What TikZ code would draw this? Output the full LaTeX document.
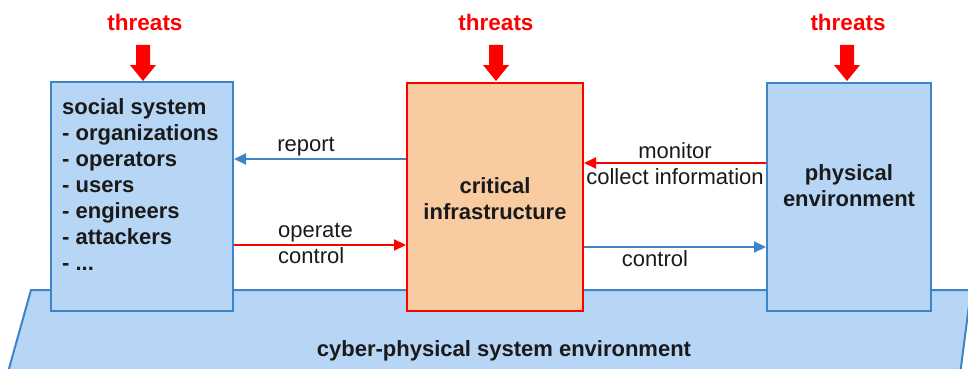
\documentclass[tikz,border=0pt]{standalone}
\usepackage{fontspec}
\setmainfont{Liberation Sans}
\usetikzlibrary{arrows.meta,calc}
\definecolor{envblue}{HTML}{B7D5F5}
\definecolor{lineblue}{HTML}{3D85C6}
\definecolor{threatred}{HTML}{FF0000}
\definecolor{infraorange}{HTML}{F8CBA0}
\definecolor{ink}{HTML}{1A1A1A}
\tikzset{
  sysbox/.style={draw=lineblue, fill=envblue, line width=2pt, inner sep=0pt},
  infrabox/.style={draw=threatred, fill=infraorange, line width=2pt, inner sep=0pt},
  boldtext/.style={font=\fontsize{22}{26}\selectfont\bfseries, text=ink, inner sep=0pt},
  plaintext/.style={font=\fontsize{22}{26}\selectfont, text=ink, inner sep=0pt},
  threatlabel/.style={font=\fontsize{22.5}{26}\selectfont\bfseries, text=threatred, inner sep=0pt},
  bluelink/.style={draw=lineblue, line width=2pt, -{Triangle[length=12pt,width=11pt]}},
  redlink/.style={draw=threatred, line width=2pt, -{Triangle[length=12pt,width=11pt]}},
  threatarrow/.pic={
    \fill[threatred] (-7,0) -- (7,0) -- (7,20) -- (13,20) -- (0,36) -- (-13,20) -- (-7,20) -- cycle;
  }
}
\begin{document}
\begin{tikzpicture}[x=1pt,y=-1pt]
  \useasboundingbox (0,0) rectangle (968,369);
  \clip (0,0) rectangle (968,369);

  % environment platform
  \filldraw[fill=envblue, draw=lineblue, line width=2pt]
    (31,290) -- (971,290) -- (958,390) -- (3,390) -- cycle;

  % main blocks
  \node[sysbox, minimum width=182pt, minimum height=229pt] (social) at (142,196.5) {};
  \node[infrabox, minimum width=176pt, minimum height=228pt] (infra) at (495,197) {};
  \node[sysbox, minimum width=164pt, minimum height=228pt] (phys) at (849,197) {};

  % block texts
  \node[boldtext, align=left, anchor=north west] (socialtext) at (62,98)
    {social system\\- organizations\\- operators\\- users\\- engineers\\- attackers\\- ...};
  \node[boldtext, align=center] (infratext) at (495,199) {critical\\infrastructure};
  \node[boldtext, align=center] (phystext) at (849,186) {physical\\environment};
  \node[boldtext] (envtext) at (504,351) {cyber-physical system environment};

  % threats
  \node[threatlabel] (t1) at (145,22) {threats};
  \node[threatlabel] (t2) at (496,22) {threats};
  \node[threatlabel] (t3) at (848,22) {threats};
  \pic at (143,45) {threatarrow};
  \pic at (496,45) {threatarrow};
  \pic at (847,45) {threatarrow};

  % connector levels
  \coordinate (yreport) at (0,159);
  \coordinate (yoperate) at (0,245);
  \coordinate (ymonitor) at (0,163);
  \coordinate (ycontrol) at (0,247);

  \draw[bluelink] (infra.west |- yreport) -- (social.east |- yreport);
  \draw[redlink] (social.east |- yoperate) -- (infra.west |- yoperate);
  \draw[redlink] (phys.west |- ymonitor) -- (infra.east |- ymonitor);
  \draw[bluelink] (infra.east |- ycontrol) -- (phys.west |- ycontrol);

  % connector labels
  \node[plaintext] (lreport) at (306,147) {report};
  \node[plaintext, align=left, anchor=west] (loperate) at (278,243) {operate\\control};
  \node[plaintext, align=center] (lmonitor) at (675,164) {monitor\\collect information};
  \node[plaintext] (lcontrol) at (655,259) {control};
\end{tikzpicture}
\end{document}
